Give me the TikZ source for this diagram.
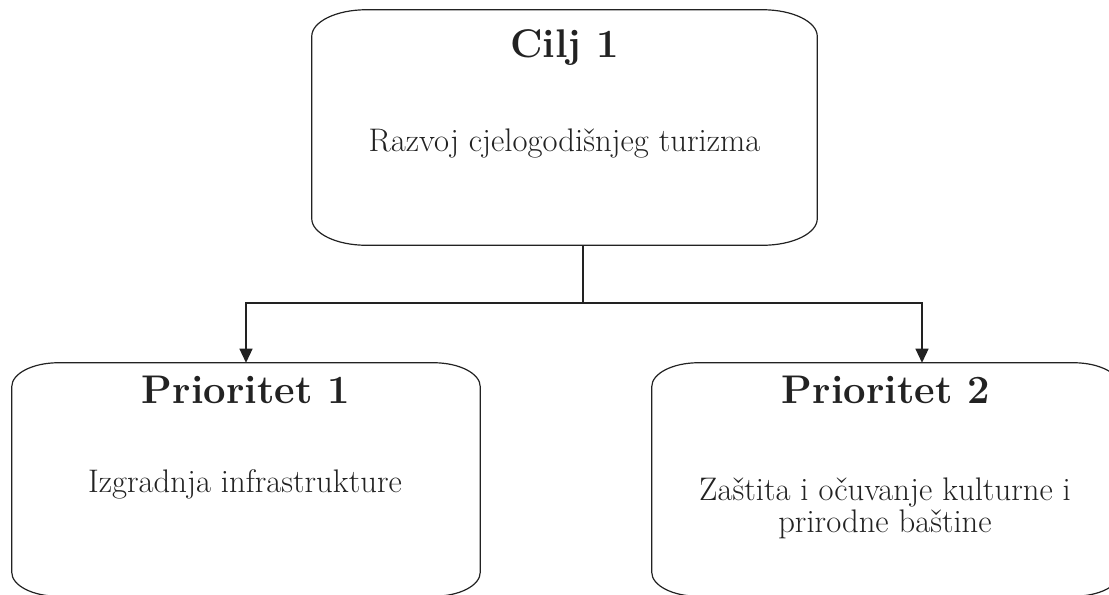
\documentclass[tikz,border=0pt]{standalone}
\usepackage{tikz}
\usetikzlibrary{positioning,arrows.meta,calc}

\definecolor{inkgray}{RGB}{34,34,34}

% frame with elliptic corners round a named node: node, x radius, y radius
\newcommand{\ovalframe}[3]{%
  \draw[frame] ([yshift=-#3]#1.north west)
    arc[start angle=180,end angle=90,x radius=#2,y radius=#3]
    -- ([xshift=-#2]#1.north east)
    arc[start angle=90,end angle=0,x radius=#2,y radius=#3]
    -- ([yshift=#3]#1.south east)
    arc[start angle=0,end angle=-90,x radius=#2,y radius=#3]
    -- ([xshift=#2]#1.south west)
    arc[start angle=270,end angle=180,x radius=#2,y radius=#3]
    -- cycle;}

\begin{document}
\begin{tikzpicture}[x=0.75pt,y=-0.75pt,
                    goalbox/.style={minimum width=378.75pt,minimum height=176.25pt,inner sep=0},
                    priobox/.style={minimum width=351pt,minimum height=174.75pt,inner sep=0},
                    frame/.style={draw=inkgray,line width=0.9pt},
                    title/.style={anchor=base,inner sep=0,text=inkgray,font=\fontsize{30}{34}\selectfont\bfseries},
                    body/.style={anchor=base,inner sep=0,align=center,text=inkgray,font=\fontsize{24.5}{23.8}\selectfont},
                    link/.style={draw=inkgray,line width=0.9pt},
                    arr/.style={link,-{Triangle[width=9.75pt,length=10.5pt]}}
                ]
                    \useasboundingbox (0,0) rectangle (1109,594);
                    % boxes
                    \node[goalbox] (cilj) at (564.5,127.5) {};
                    \node[priobox] (prio1) at (246,479.5) {};
                    \node[priobox] (prio2) at (886,479.5) {};
                    \ovalframe{cilj}{41pt}{20pt}
                    \ovalframe{prio1}{35pt}{18pt}
                    \ovalframe{prio2}{35pt}{18pt}
                    % texts
                    \node[title] (cilj-title) at (564.5,57) {Cilj 1};
                    \node[title] (prio1-title) at (246,403) {Prioritet 1};
                    \node[title] (prio2-title) at (886,403) {Prioritet 2};
                    \node[body] (cilj-text) at (564.5,151) {Razvoj cjelogodišnjeg turizma};
                    \node[body] (prio1-text) at (245,492) {Izgradnja infrastrukture};
                    \node[body] (prio2-text) at (885,532) {Zaštita i očuvanje kulturne i\\prirodne baštine};
                    % connectors
                    \coordinate (split) at (583,303);
                    \draw[link] (cilj.south -| split) -- (split);
                    \draw[arr] (split) -| (prio1.north);
                    \draw[arr] (split) -| ([xshift=27pt]prio2.north);
                \end{tikzpicture}
\end{document}
